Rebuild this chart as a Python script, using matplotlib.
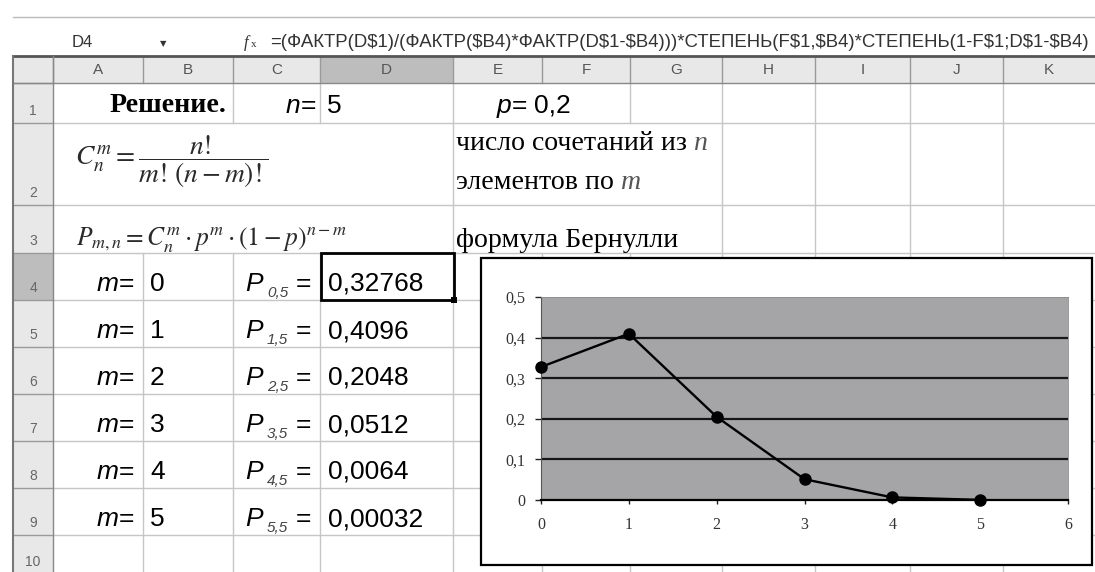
import matplotlib
matplotlib.use('Agg')
import matplotlib.pyplot as plt
from matplotlib.patches import Rectangle

# ---------------- data ----------------
m_values = [0, 1, 2, 3, 4, 5]
p_values = [0.32768, 0.4096, 0.2048, 0.0512, 0.0064, 0.00032]
p_labels = ['0,32768', '0,4096', '0,2048', '0,0512', '0,0064', '0,00032']
p_subscripts = ['0,5', '1,5', '2,5', '3,5', '4,5', '5,5']
n_value = '5'
p_param = '0,2'
col_letters = ['A', 'B', 'C', 'D', 'E', 'F', 'G', 'H', 'I', 'J', 'K']
row_numbers = ['1', '2', '3', '4', '5', '6', '7', '8', '9', '10']
x_ticks = [0, 1, 2, 3, 4, 5, 6]
x_tick_labels = ['0', '1', '2', '3', '4', '5', '6']
y_ticks = [0, 0.1, 0.2, 0.3, 0.4, 0.5]
y_tick_labels = ['0', '0,1', '0,2', '0,3', '0,4', '0,5']
cell_ref = 'D4'
formula_text = '=(ФАКТР(D$1)/(ФАКТР($B4)*ФАКТР(D$1-$B4)))*СТЕПЕНЬ(F$1,$B4)*СТЕПЕНЬ(1-F$1;D$1-$B4)'
title_text = 'Решение.'
comb_line1 = 'число сочетаний из '
comb_line2 = 'элементов по '
bern_text = 'формула Бернулли'

# ---------------- layout ----------------
W, H, DPI = 1095, 572, 100
col_edges = [13, 53, 143, 233, 320, 453, 542, 630, 722, 815, 910, 1003, 1095]
row_edges = [57, 83, 123, 205, 253, 300, 347, 394, 441, 488, 535, 582]
SANS = 'Liberation Sans'
SERIF = 'Liberation Serif'
plt.rcParams['mathtext.fontset'] = 'stix'

fig = plt.figure(figsize=(W / DPI, H / DPI), dpi=DPI)
fig.patch.set_facecolor('white')
bg = fig.add_axes([0, 0, 1, 1])
bg.set_xlim(0, W)
bg.set_ylim(H, 0)
bg.axis('off')
renderer = fig.canvas.get_renderer()


def twidth(t):
    return t.get_window_extent(renderer).width


def runs(x, y, pieces, va='baseline'):
    for s, kw in pieces:
        kw = dict(kw)
        kw.setdefault('color', 'black')
        t = bg.text(x, y, s, va=va, ha='left', **kw)
        x += twidth(t)
    return x


def fit_size(s, target, **kw):
    t = bg.text(0, 0, s, fontsize=10, **kw)
    w = twidth(t)
    t.remove()
    return 10 * target / w


# formula bar
bg.plot([13, W], [17, 17], color='#bbbbbb', lw=1)
bg.text(72, 47, cell_ref, fontsize=12, family=SANS, color='#333333', va='baseline')
bg.text(163, 44, '▼', fontsize=6, family='DejaVu Sans', color='#333333', va='center', ha='center')
bg.text(244, 47, 'f', fontsize=12, family=SERIF, style='italic', color='#333333', va='baseline')
bg.text(251, 47, 'x', fontsize=8, family=SERIF, color='#333333', va='baseline')
fs = fit_size(formula_text, 820, family=SANS, parse_math=False)
bg.text(270, 47, formula_text, fontsize=fs, family=SANS, color='#333333',
        va='baseline', parse_math=False)

# header backgrounds
bg.add_patch(Rectangle((13, 57), W - 13, 26, facecolor='#e8e8e8', edgecolor='none', zorder=0))
bg.add_patch(Rectangle((13, 83), 40, H - 83, facecolor='#e8e8e8', edgecolor='none', zorder=0))
bg.add_patch(Rectangle((320, 57), 133, 26, facecolor='#bdbdbd', edgecolor='none', zorder=0))
bg.add_patch(Rectangle((13, 253), 40, 47, facecolor='#bdbdbd', edgecolor='none', zorder=0))

# header separators
for x in col_edges[1:-1]:
    bg.plot([x, x], [57, 83], color='#9a9a9a', lw=1, zorder=1)
for y in row_edges[1:]:
    bg.plot([13, 53], [y, y], color='#9a9a9a', lw=1, zorder=1)
bg.plot([13, W], [56, 56], color='#555555', lw=2, zorder=2)
bg.plot([13, W], [83, 83], color='#888888', lw=1, zorder=2)
bg.plot([13, 13], [56, H], color='#777777', lw=1.5, zorder=2)
bg.plot([53, 53], [56, H], color='#888888', lw=1, zorder=2)

# column letters and row numbers
for i, c in enumerate(col_letters):
    xc = (col_edges[i + 1] + col_edges[i + 2]) / 2
    bg.text(xc, 70, c, fontsize=11, family=SANS, color='#555555', ha='center', va='center')
for i, r in enumerate(row_numbers):
    yc = min(row_edges[i + 2] - 12, H - 10)
    bg.text(33, yc, r, fontsize=10, family=SANS, color='#666666', ha='center', va='center')

# sheet gridlines
GRID = '#c6c6c6'
for y in row_edges[2:]:
    bg.plot([53, W], [y, y], color=GRID, lw=1, zorder=1)
skip = {0: {143, 542}, 1: {143, 233, 320, 542, 630}, 2: {143, 233, 320, 542, 630}}
for r in range(10):
    y0, y1 = row_edges[r + 1], row_edges[r + 2]
    for x in col_edges[2:-1]:
        if x in skip.get(r, set()):
            continue
        bg.plot([x, x], [y0, y1], color=GRID, lw=1, zorder=1)

# row 1
fs_t = fit_size(title_text, 117, family=SERIF, weight='bold')
bg.text(110, 112, title_text, fontsize=fs_t, family=SERIF, weight='bold', va='baseline')
CELL = 19
t = bg.text(0, 0, 'n=', fontsize=CELL, family=SANS)
wn = twidth(t); t.remove()
runs(316 - wn, 113, [('n', dict(fontsize=CELL, family=SANS, style='italic')),
                     ('=', dict(fontsize=CELL, family=SANS))])
bg.text(327, 113, n_value, fontsize=CELL, family=SANS, va='baseline')
runs(497, 113, [('p', dict(fontsize=CELL, family=SANS, style='italic')),
                ('= ', dict(fontsize=CELL, family=SANS)),
                (p_param, dict(fontsize=CELL, family=SANS))])

# row 2 / 3 formulas
f2 = r'$C_n^m=\dfrac{n!}{m!\,(n-m)!}$'
fs2 = fit_size(f2, 195)
bg.text(75, 162, f2, fontsize=fs2, va='center', ha='left', color='#2a2a2a')
f3 = r'$P_{m,n}=C_n^m\cdot p^m\cdot(1-p)^{n-m}$'
fs3 = fit_size(f3, 272)
bg.text(76, 246, f3, fontsize=fs3, va='baseline', ha='left', color='#2a2a2a')

# E column descriptions
fsE = fit_size(comb_line1 + 'n', 252, family=SERIF)
runs(456, 150, [(comb_line1, dict(fontsize=fsE, family=SERIF)),
                ('n', dict(fontsize=fsE, family=SERIF, style='italic', color='#555555'))])
runs(456, 189, [(comb_line2, dict(fontsize=fsE, family=SERIF)),
                ('m', dict(fontsize=fsE, family=SERIF, style='italic', color='#555555'))])
bg.text(456, 247, bern_text, fontsize=fsE, family=SERIF, va='baseline')

# rows 4-9
for i, (mv, lab, sub) in enumerate(zip(m_values, p_labels, p_subscripts)):
    yb = row_edges[i + 4] + 38
    runs(97, yb, [('m', dict(fontsize=CELL, family=SANS, style='italic')),
                  ('=', dict(fontsize=CELL, family=SANS))])
    bg.text(150, yb, str(mv), fontsize=CELL, family=SANS, va='baseline')
    bg.text(245, yb, 'P', fontsize=CELL, family=SANS, style='italic', va='baseline')
    bg.text(267, yb + 6, sub, fontsize=11, family=SANS, style='italic',
            color='#444444', va='baseline')
    bg.text(296, yb, '=', fontsize=CELL, family=SANS, va='baseline')
    bg.text(328, yb, lab, fontsize=CELL, family=SANS, va='baseline')

# selected cell D4
bg.add_patch(Rectangle((321, 253), 133, 47, facecolor='none', edgecolor='black', lw=2, zorder=6))
bg.add_patch(Rectangle((451, 297), 6, 6, facecolor='black', edgecolor='none', zorder=7))

# chart frame
bg.add_patch(Rectangle((481, 258), 611, 307, facecolor='white', edgecolor='black',
                       lw=1.6, zorder=8))

# ---------------- chart ----------------
ax = fig.add_axes([541 / W, 1 - 500 / H, 527 / W, 203 / H])
ax.set_facecolor('#a5a5a8')
ax.set_xlim(0, 6)
ax.set_ylim(0, 0.5)
for yv in y_ticks[1:-1]:
    ax.axhline(yv, color='#161616', lw=1.6, zorder=1)
ax.plot(m_values, p_values, color='black', lw=1.7, marker='o', ms=8,
        markerfacecolor='black', zorder=3, clip_on=False)
ax.set_xticks(x_ticks)
ax.set_xticklabels(x_tick_labels)
ax.set_yticks(y_ticks)
ax.set_yticklabels(y_tick_labels)
for lab in ax.get_xticklabels() + ax.get_yticklabels():
    lab.set_family(SERIF)
    lab.set_fontsize(11.5)
    lab.set_color('#333333')
ax.tick_params(axis='x', direction='out', length=3, width=1, color='#222222', pad=9)
ax.tick_params(axis='y', direction='out', length=4, width=1, color='#222222', pad=7)
ax.spines['bottom'].set_color('black')
ax.spines['bottom'].set_linewidth(1.6)
ax.spines['left'].set_color('#555555')
ax.spines['left'].set_linewidth(0.8)
for s in ('top', 'right'):
    ax.spines[s].set_color('#8a8a8a')
    ax.spines[s].set_linewidth(0.6)

fig.savefig('out.png', dpi=DPI, facecolor='white')
